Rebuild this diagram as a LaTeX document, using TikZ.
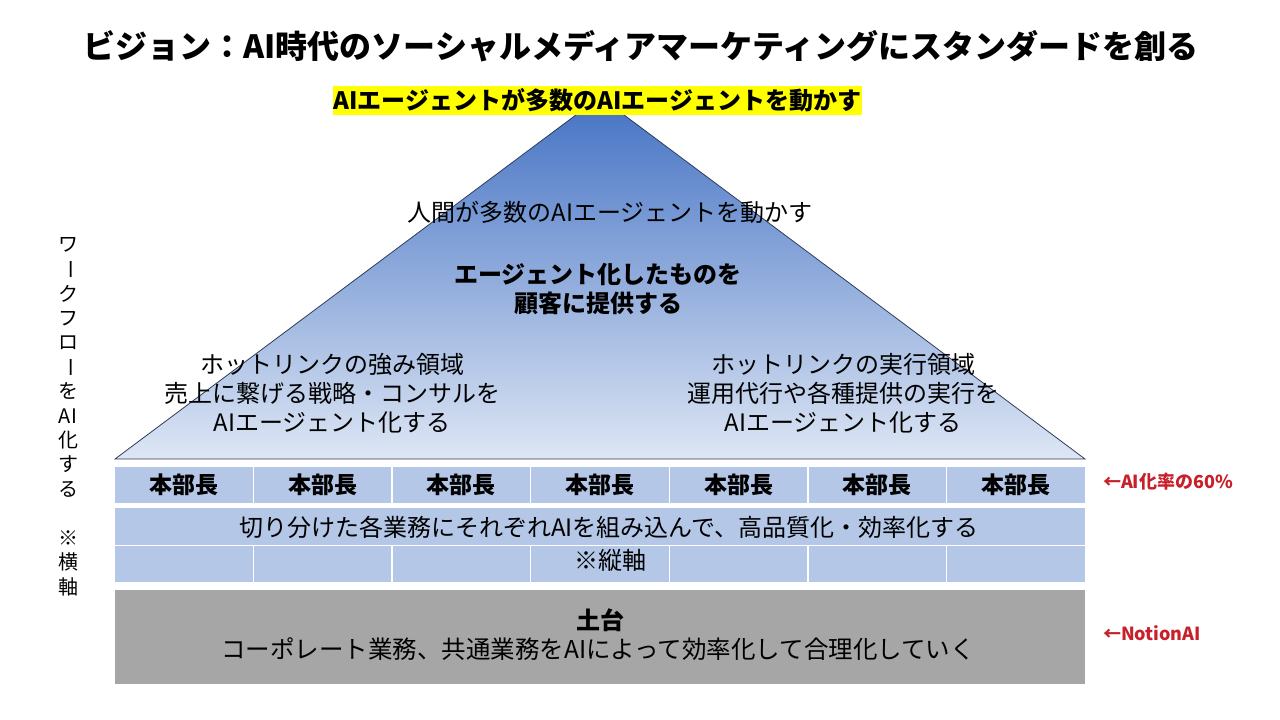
\documentclass[tikz,border=0pt]{standalone}
\usepackage{fontspec}
\setmainfont{Noto Sans CJK JP}
\definecolor{triTop}{HTML}{4472C4}
\definecolor{triBot}{HTML}{DDE6F4}
\definecolor{triEdge}{HTML}{2F3D5A}
\definecolor{rowBlue}{HTML}{B4C7E7}
\definecolor{baseGray}{HTML}{A6A6A6}
\definecolor{redLbl}{HTML}{C8202A}
\definecolor{hiYellow}{HTML}{FFFF00}
\begin{document}
\begin{tikzpicture}[x=1pt,y=-1pt,
  every node/.style={inner sep=0pt, outer sep=0pt},
  titletxt/.style={font=\fontsize{32}{36}\selectfont\bfseries},
  bodytxt/.style={font=\fontsize{24}{29}\selectfont, align=center},
  boldtxt/.style={font=\fontsize{24}{29}\selectfont\bfseries, align=center},
  headtxt/.style={font=\fontsize{23}{26}\selectfont\bfseries},
  redtxt/.style={font=\fontsize{18}{20}\selectfont\bfseries, text=redLbl, anchor=west},
  verttxt/.style={font=\fontsize{20}{22}\selectfont},
  divline/.style={white, line width=1.5pt}
]
\useasboundingbox (0,0) rectangle (1280,720);
\fill[white] (0,0) rectangle (1280,720);

% title
\node[titletxt] (title) at (641,46) {ビジョン：AI時代のソーシャルメディアマーケティングにスタンダードを創る};

% pyramid
\shade[top color=triTop, bottom color=triBot] (600,97) -- (1085,459) -- (115,459) -- cycle;
\draw[triEdge, line width=0.8pt, line join=miter] (600,97) -- (1085,459) -- (115,459) -- cycle;

% yellow top label
\node[fill=hiYellow, minimum width=529pt, minimum height=29pt, font=\fontsize{24}{28}\selectfont\bfseries] (top) at (597.5,100.5) {AIエージェントが多数のAIエージェントを動かす};

% pyramid texts
\node[bodytxt] (human) at (610,212) {人間が多数のAIエージェントを動かす};
\node[boldtxt] (agent) at (598,289) {エージェント化したものを\\顧客に提供する};
\node[bodytxt] (left) at (332,393) {ホットリンクの強み領域\\売上に繋げる戦略・コンサルを\\AIエージェント化する};
\node[bodytxt] (right) at (843,393) {ホットリンクの実行領域\\運用代行や各種提供の実行を\\AIエージェント化する};

% row 1: heads
\fill[rowBlue] (115,467) rectangle (1085,503);
\foreach \i in {1,...,6} {
  \draw[divline] ({115+138.571*\i},467) -- ({115+138.571*\i},503);
}
\foreach \i in {0,...,6} {
  \node[headtxt] (h\i) at ({115+138.571*(\i+0.5)},485) {本部長};
}

% rows 2 and 3
\fill[rowBlue] (115,508) rectangle (1085,582);
\draw[white, line width=1pt] (115,545) -- (1085,545);
\foreach \i in {1,...,6} {
  \draw[divline] ({115+138.571*\i},545) -- ({115+138.571*\i},582);
}
\node[bodytxt] (row2) at (609,527) {切り分けた各業務にそれぞれAIを組み込んで、高品質化・効率化する};
\node[bodytxt] (row3) at (610,560) {※縦軸};

% base
\fill[baseGray] (115,590) rectangle (1085,684);
\node[boldtxt] (base) at (600,620) {土台};
\node[bodytxt, font=\fontsize{24.5}{29}\selectfont] (baseTxt) at (598,649) {コーポレート業務、共通業務をAIによって効率化して合理化していく};

% red labels
\node[redtxt] (rate) at (1103,482) {←AI化率の60\%};
\node[redtxt] (notion) at (1103,633) {←NotionAI};

% vertical text
\foreach \c/\k in {ワ/0,\rotatebox{-90}{ー}/1,ク/2,フ/3,ロ/4,\rotatebox{-90}{ー}/5,を/6,AI/7,化/8,す/9,る/10,※/12,横/13,軸/14} {
  \node[verttxt] (v\k) at (68,{245+24.4*\k}) {\c};
}
\end{tikzpicture}
\end{document}
